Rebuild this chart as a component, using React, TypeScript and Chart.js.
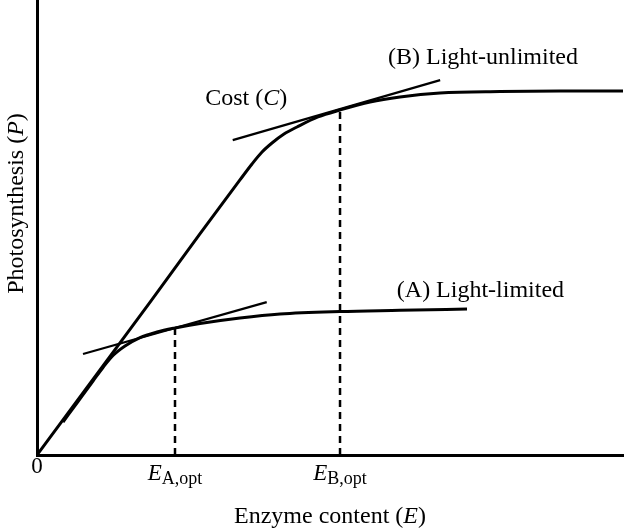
import React, { useEffect, useRef } from "react";
import { Chart, registerables } from "chart.js";

Chart.register(...registerables);

// Enzyme content (E) and photosynthesis (P), arbitrary units (0–100)
const curveB_E = [0, 10.75, 19.3, 27.8, 34.6, 36.69, 38.4, 40.1, 42.15, 44.37, 47.95, 51.71, 56.83, 61.95, 68.77, 79.01, 89.25, 100];
const curveB_P = [0, 18.7, 33.6, 48.6, 60.4, 63.96, 66.59, 68.57, 70.55, 72.09, 74.29, 75.82, 77.58, 78.68, 79.56, 79.89, 80.0, 80.0];

const curveA_E = [4.44, 7.0, 9.56, 11.26, 12.97, 15.02, 17.58, 20.48, 23.55, 27.82, 34.64, 41.47, 51.71, 61.95, 73.38];
const curveA_P = [7.25, 11.76, 16.26, 19.23, 21.87, 23.96, 25.82, 27.03, 27.91, 28.9, 30.11, 30.99, 31.54, 31.8, 32.09];

const tangentA_E = [7.85, 39.2];
const tangentA_P = [22.2, 33.6];
const tangentB_E = [33.4, 68.8];
const tangentB_P = [69.2, 82.4];

const optE = [23.55, 51.71];
const optP = [27.91, 75.82];

const tickValues = [0, 23.55, 51.71];
const tickMain = ["0", "E", "E"];
const tickSub = ["", "A,opt", "B,opt"];

const labelCost = { E: 28.7, P: 76.9 };
const labelB = { E: 59.9, P: 85.9 };
const labelA = { E: 61.4, P: 34.7 };

type Run = { t: string; italic?: boolean; sub?: boolean; size?: number };
const FAMILY = '"Liberation Serif", "Times New Roman", serif';

function runFont(r: Run, size: number) {
  const s = r.size ?? (r.sub ? Math.round(size * 0.75) : size);
  return `${r.italic ? "italic " : ""}${s}px ${FAMILY}`;
}

function drawRuns(
  ctx: CanvasRenderingContext2D,
  runs: Run[],
  x: number,
  y: number,
  align: "left" | "center",
  size: number
) {
  let w = 0;
  for (const r of runs) {
    ctx.font = runFont(r, size);
    w += ctx.measureText(r.t).width;
  }
  let cx = align === "center" ? x - w / 2 : x;
  ctx.textAlign = "left";
  ctx.textBaseline = "alphabetic";
  for (const r of runs) {
    ctx.font = runFont(r, size);
    ctx.fillText(r.t, cx, y + (r.sub ? 4 : 0));
    cx += ctx.measureText(r.t).width;
  }
}

const pts = (xs: number[], ys: number[]) => xs.map((x, i) => ({ x, y: ys[i] }));

const textPlugin = {
  id: "textPlugin",
  afterDraw(chart: any) {
    const ctx: CanvasRenderingContext2D = chart.ctx;
    const xs = chart.scales.x;
    const ys = chart.scales.y;
    const area = chart.chartArea;
    ctx.save();
    ctx.fillStyle = "#000";
    // tick labels
    tickValues.forEach((v, i) => {
      const px = xs.getPixelForValue(v);
      if (tickSub[i]) {
        drawRuns(
          ctx,
          [
            { t: tickMain[i], italic: true, size: 23 },
            { t: tickSub[i], sub: true, size: 18 },
          ],
          px,
          area.bottom + 25,
          "center",
          23
        );
      } else {
        drawRuns(ctx, [{ t: tickMain[i], size: 23 }], px, area.bottom + 18, "center", 23);
      }
    });
    // annotations
    drawRuns(
      ctx,
      [{ t: "Cost (" }, { t: "C", italic: true }, { t: ")" }],
      xs.getPixelForValue(labelCost.E),
      ys.getPixelForValue(labelCost.P),
      "left",
      24
    );
    drawRuns(
      ctx,
      [{ t: "(B) Light-unlimited" }],
      xs.getPixelForValue(labelB.E),
      ys.getPixelForValue(labelB.P),
      "left",
      24
    );
    drawRuns(
      ctx,
      [{ t: "(A) Light-limited" }],
      xs.getPixelForValue(labelA.E),
      ys.getPixelForValue(labelA.P),
      "left",
      24
    );
    // x title
    drawRuns(
      ctx,
      [{ t: "Enzyme content (" }, { t: "E", italic: true }, { t: ")" }],
      (area.left + area.right) / 2,
      area.bottom + 68,
      "center",
      24
    );
    // y title
    ctx.translate(area.left - 14, (area.top + area.bottom) / 2 - 24);
    ctx.rotate(-Math.PI / 2);
    drawRuns(
      ctx,
      [{ t: "Photosynthesis (" }, { t: "P", italic: true }, { t: ")" }],
      0,
      0,
      "center",
      24
    );
    ctx.restore();
  },
};

export default function App() {
  const ref = useRef<HTMLCanvasElement | null>(null);
  useEffect(() => {
    if (!ref.current) return;
    const common = { pointRadius: 0, borderColor: "#000", fill: false, showLine: true };
    const chart = new Chart(ref.current, {
      type: "scatter",
      data: {
        datasets: [
          { ...common, label: "(B) Light-unlimited", data: pts(curveB_E, curveB_P), borderWidth: 3, cubicInterpolationMode: "monotone" },
          { ...common, label: "(A) Light-limited", data: pts(curveA_E, curveA_P), borderWidth: 3, cubicInterpolationMode: "monotone" },
          { ...common, label: "Cost A", data: pts(tangentA_E, tangentA_P), borderWidth: 2.2 },
          { ...common, label: "Cost B", data: pts(tangentB_E, tangentB_P), borderWidth: 2.2 },
          { ...common, label: "E_A,opt", data: [{ x: optE[0], y: 0 }, { x: optE[0], y: optP[0] }], borderWidth: 2.5, borderDash: [7, 5] },
          { ...common, label: "E_B,opt", data: [{ x: optE[1], y: 0 }, { x: optE[1], y: optP[1] }], borderWidth: 2.5, borderDash: [7, 5] },
        ] as any,
      },
      options: {
        animation: false,
        responsive: true,
        maintainAspectRatio: false,
        layout: { padding: { left: 37, right: 17, top: 0, bottom: 74 } },
        plugins: { legend: { display: false }, tooltip: { enabled: false } },
        scales: {
          x: {
            type: "linear",
            min: 0,
            max: 100,
            grid: { display: false, drawTicks: false },
            ticks: { display: false },
            border: { display: true, color: "#000", width: 3 },
            afterFit: (s: any) => { s.height = 0; },
          },
          y: {
            type: "linear",
            min: 0,
            max: 100,
            grid: { display: false, drawTicks: false },
            ticks: { display: false },
            border: { display: true, color: "#000", width: 3 },
            afterFit: (s: any) => { s.width = 0; },
          },
        },
      } as any,
      plugins: [textPlugin],
    });
    return () => chart.destroy();
  }, []);
  return (
    <div style={{ position: "absolute", left: 0, top: 0, width: 640, height: 529, background: "#fff" }}>
      <canvas ref={ref} />
    </div>
  );
}
